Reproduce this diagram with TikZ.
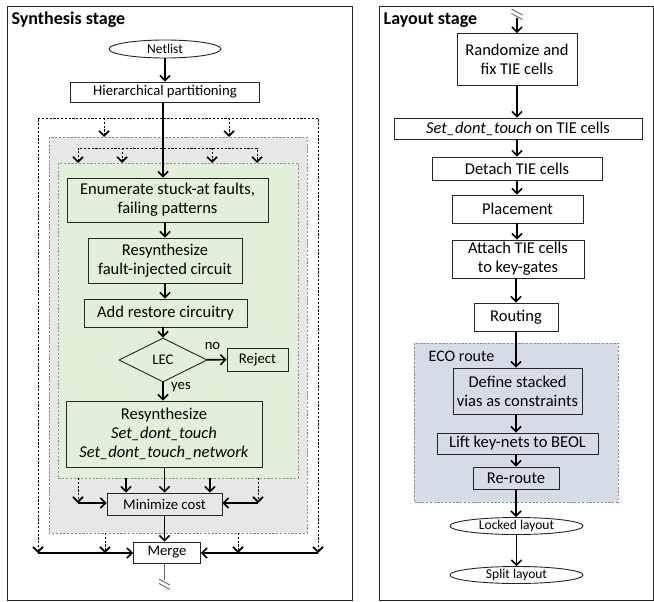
\documentclass[tikz,border=0pt]{standalone}
\usepackage{fontspec}
\setmainfont{Carlito}
\usetikzlibrary{shapes.geometric,arrows.meta}
\definecolor{gfill}{HTML}{E2EFDA}
\definecolor{grfill}{HTML}{E7E7E7}
\definecolor{bfill}{HTML}{D6DCE5}
\definecolor{bord}{HTML}{262626}
\definecolor{gbord}{HTML}{8C9A80}
\definecolor{dbord}{HTML}{8C8C8C}
\begin{document}
\begin{tikzpicture}[x=1pt,y=-1pt,
  box/.style={draw=bord,line width=0.9pt,inner sep=0pt,align=center},
  big/.style={font=\fontsize{16.5}{19}\selectfont},
  small/.style={font=\fontsize{14.7}{17}\selectfont},
  tiny/.style={font=\fontsize{13.5}{16}\selectfont},
  arr/.style={line width=1.6pt,-{Straight Barb[length=5pt,width=10pt]}},
  darr/.style={line width=0.8pt,dash pattern=on 2.2pt off 1.6pt,-{Straight Barb[length=5pt,width=10pt,line width=1.6pt]}},
  darrb/.style={line width=0.8pt,dash pattern=on 2.2pt off 1.6pt,{Straight Barb[length=5pt,width=10pt,line width=1.6pt]}-{Straight Barb[length=5pt,width=10pt,line width=1.6pt]}},
  brk/.style={draw=gray!80!black,line width=0.9pt},
  ttl/.style={anchor=west,inner sep=0pt,font=\bfseries\fontsize{18}{21}\selectfont}
]
\useasboundingbox (0,0) rectangle (654,602);

% panels
\draw[bord,line width=1pt] (7,7) rectangle (352,600);
\draw[bord,line width=1pt] (379,7) rectangle (653,600);
\node[ttl] (t1) at (11.5,20) {Synthesis stage};
\node[ttl] (t2) at (383.5,20) {Layout stage};

% ---------- synthesis backgrounds
\draw[dbord,line width=0.8pt,dash pattern=on 2.2pt off 1.6pt,fill=grfill] (49,137) rectangle (307,533);
\draw[gbord,line width=0.8pt,dash pattern=on 2.2pt off 1.6pt,fill=gfill] (58,163) rectangle (298,478);

% ---------- synthesis nodes
\node[box,ellipse,tiny,minimum width=112pt,minimum height=18pt,fill=white] (netlist) at (165,49) {Netlist};
\node[box,small,minimum width=189pt,minimum height=20pt,fill=white] (hier) at (165,92) {Hierarchical partitioning};
\node[box,big,minimum width=201pt,minimum height=44pt,fill=gfill] (enum) at (167.5,200) {Enumerate stuck-at faults,\\failing patterns};
\node[box,big,minimum width=154pt,minimum height=45pt,fill=gfill] (resyn) at (165,260.5) {Resynthesize\\fault-injected circuit};
\node[box,big,minimum width=163pt,minimum height=28pt,fill=gfill] (restore) at (165.5,313) {Add restore circuitry};
\node[box,diamond,small,minimum width=88pt,minimum height=44pt,fill=gfill] (lec) at (163,360) {LEC};
\node[box,small,minimum width=61pt,minimum height=23pt,fill=gfill] (reject) at (257.5,359.5) {Reject};
\node[box,big,minimum width=196pt,minimum height=66pt,fill=gfill] (resyn2) at (164,434) {Resynthesize\\\textit{Set\_dont\_touch}\\\textit{Set\_dont\_touch\_network}};
\node[box,small,minimum width=115pt,minimum height=22pt,fill=grfill] (mini) at (164.5,504) {Minimize cost};
\node[box,small,minimum width=67pt,minimum height=21pt,fill=white] (merge) at (167,552.5) {Merge};
\node[small] (no) at (212.5,346) {no};
\node[small,anchor=west,inner sep=0pt] (yes) at (171,387) {yes};

% ---------- synthesis coordinates
\coordinate (oLb) at (38,553);
\coordinate (oLt) at (38,118);
\coordinate (oRt) at (318,118);
\coordinate (oRb) at (318,553);
\coordinate (o1) at (104,118);
\coordinate (o2) at (229,118);
\coordinate (iLb) at (78,163);
\coordinate (iLt) at (78,148);
\coordinate (iRt) at (257,148);
\coordinate (iRb) at (257,163);
\coordinate (i1) at (122,148);
\coordinate (i2) at (212,148);
\coordinate (gL) at (78,478);
\coordinate (gLb) at (78,503);
\coordinate (gR) at (258,478);
\coordinate (gRb) at (258,503);
\coordinate (gA) at (126,478);
\coordinate (gB) at (210,478);
\coordinate (q1) at (105,533);
\coordinate (q2) at (238,533);
\coordinate (brkL) at (164,580);

% ---------- synthesis connectors
\draw[darrb] (oLb) -- (oLt) -- (oRt) -- (oRb);
\draw[darr] (o1) -- (o1 |- 0,137);
\draw[darr] (o2) -- (o2 |- 0,137);
\draw[darrb] (iLb) -- (iLt) -- (iRt) -- (iRb);
\draw[darr] (i1) -- (i1 |- iLb);
\draw[darr] (i2) -- (i2 |- iLb);

\draw[arr] (netlist) -- (hier);
\draw[arr] (hier.south -| 163,0) -- (enum.north -| 163,0);
\draw[arr] (enum.south -| 165,0) -- (resyn);
\draw[arr] (resyn) -- (resyn.south |- restore.north);
\draw[arr] (restore.south -| lec) -- (lec);
\draw[arr] (lec) -- (reject);
\draw[arr] (lec) -- (lec |- resyn2.north);
\draw[arr] (resyn2.south -| mini) -- (mini);

\draw[darr] (gL) -- (gLb);
\draw[darr] (gR) -- (gRb);
\draw[arr] (gLb) -- (gLb -| mini.west);
\draw[arr] (gRb) -- (gRb -| mini.east);
\draw[arr] (gA) -- (gA |- mini.north);
\draw[arr] (gB) -- (gB |- mini.north);

\draw[arr] (mini) -- (mini.south |- merge.north);
\draw[darr] (q1) -- (q1 |- oLb);
\draw[darr] (q2) -- (q2 |- oLb);
\draw[arr] (oLb) -- (oLb -| merge.west);
\draw[arr] (oRb) -- (oRb -| merge.east);

\draw[brk] (merge.south -| brkL) -- (brkL);
\draw[brk] (159,579) -- (170,585) (159,583.5) -- (170,589.5);

% ---------- layout background
\draw[dbord,line width=0.8pt,dash pattern=on 2.2pt off 1.6pt,fill=bfill] (414,343) rectangle (618,502);
\node[anchor=west,inner sep=0pt,font=\fontsize{16}{19}\selectfont] (eco) at (428.5,356) {ECO route};

% ---------- layout nodes
\node[box,big,minimum width=120pt,minimum height=52pt,fill=white] (rand) at (517,59.5) {Randomize and\\fix TIE cells};
\node[box,big,minimum width=248pt,minimum height=21pt,fill=white] (sdt) at (518,128.5) {\textit{Set\_dont\_touch} on TIE cells};
\node[box,big,minimum width=170pt,minimum height=23pt,fill=white] (detach) at (517,168.5) {Detach TIE cells};
\node[box,big,minimum width=131pt,minimum height=28pt,fill=white] (place) at (517.5,209) {Placement};
\node[box,big,minimum width=132pt,minimum height=38pt,fill=white] (attach) at (518,259) {Attach TIE cells\\to key-gates};
\node[box,big,minimum width=84pt,minimum height=28pt,fill=white] (route) at (516,317) {Routing};
\node[box,big,minimum width=129pt,minimum height=46pt,fill=bfill] (define) at (517.5,391) {Define stacked\\vias as constraints};
\node[box,big,minimum width=161pt,minimum height=21pt,fill=bfill] (lift) at (517.5,443.5) {Lift key-nets to BEOL};
\node[box,big,minimum width=86pt,minimum height=22pt,fill=bfill] (reroute) at (516,478) {Re-route};
\node[box,ellipse,tiny,minimum width=133pt,minimum height=17pt,fill=white] (locked) at (516.5,526) {Locked layout};
\node[box,ellipse,tiny,minimum width=133pt,minimum height=17pt,fill=white] (split) at (516.5,575) {Split layout};

% ---------- layout connectors
\coordinate (brkR) at (517,18);
\draw[brk] (511.5,9) -- (522.5,15) (511.5,13.5) -- (522.5,19.5);
\draw[arr] (brkR) -- (rand.north -| brkR);
\draw[arr] (rand) -- (rand.south |- sdt.north);
\draw[arr] (sdt.south -| rand) -- (rand |- detach.north);
\draw[arr] (detach.south -| rand) -- (rand |- place.north);
\draw[arr] (place.south -| rand) -- (rand |- attach.north);
\draw[arr] (attach.south -| route) -- (route);
\draw[arr] (route) -- (route |- define.north);
\draw[arr] (define.south -| route) -- (route |- lift.north);
\draw[arr] (lift.south -| route) -- (route |- reroute.north);
\draw[arr] (reroute) -- (reroute |- locked.north);
\draw[arr] (locked) -- (locked |- split.north);
\end{tikzpicture}
\end{document}
